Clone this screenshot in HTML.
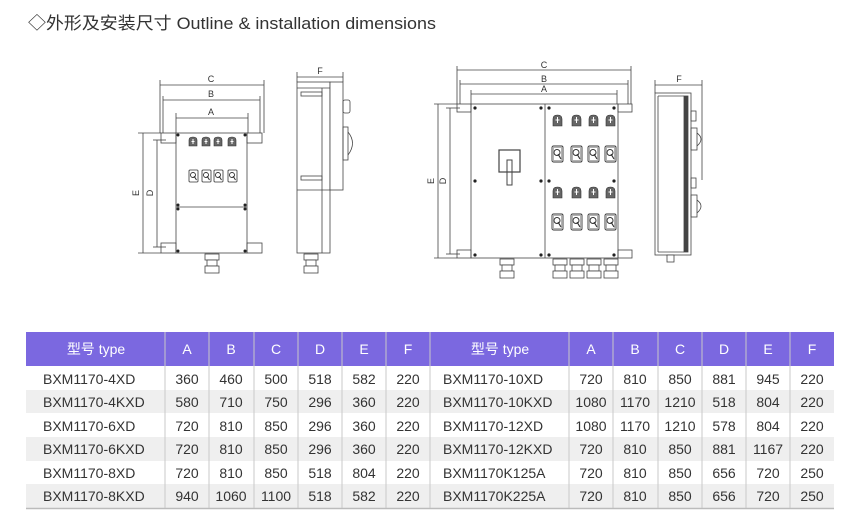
<!DOCTYPE html>
<html><head><meta charset="utf-8"><style>
html,body{margin:0;padding:0;background:#fff;width:850px;height:522px;overflow:hidden}
svg{display:block}
text{font-family:"Liberation Sans","Noto Sans CJK SC",sans-serif}
</style></head><body>
<svg width="850" height="522" viewBox="0 0 850 522" xmlns="http://www.w3.org/2000/svg">
<defs>
<g id="sm"><path d="M0,9 V3 Q0,0 4,0 Q8,0 8,3 V9 Z" fill="#666" stroke="#333" stroke-width="0.6"/><line x1="4" y1="2" x2="4" y2="7" stroke="#fff" stroke-width="1"/><line x1="2.5" y1="4.5" x2="5.5" y2="4.5" stroke="#fff" stroke-width="1"/></g>
<g id="bg"><rect x="0" y="0" width="9" height="12" rx="1" fill="#fff" stroke="#333" stroke-width="0.8"/><circle cx="4" cy="5" r="2.5" fill="none" stroke="#333" stroke-width="0.9"/><line x1="5" y1="6" x2="7.5" y2="10" stroke="#333" stroke-width="1"/></g>
<g id="sm2"><path d="M0,11 V4 Q0,0 4.5,0 Q9,0 9,4 V11 Z" fill="#666" stroke="#333" stroke-width="0.6"/><line x1="4.5" y1="2" x2="4.5" y2="8" stroke="#fff" stroke-width="1"/><line x1="2.5" y1="5" x2="6.5" y2="5" stroke="#fff" stroke-width="1"/></g>
<g id="bg2"><rect x="0" y="0" width="11" height="16" rx="1.5" fill="#fff" stroke="#333" stroke-width="0.9"/><rect x="1.5" y="1.5" width="8" height="13" fill="none" stroke="#666" stroke-width="0.5"/><circle cx="5" cy="6.5" r="3" fill="none" stroke="#333" stroke-width="1"/><line x1="6" y1="8" x2="9" y2="13" stroke="#333" stroke-width="1.2"/></g>
<g id="gl"><rect x="0" y="0" width="14" height="6" fill="#fff" stroke="#444" stroke-width="0.8"/><rect x="2" y="6" width="10" height="6" fill="#fff" stroke="#444" stroke-width="0.8"/><rect x="0" y="12" width="14" height="7" fill="#fff" stroke="#444" stroke-width="0.8"/></g>
</defs>
<text x="28" y="29" font-size="17" fill="#333" textLength="408" lengthAdjust="spacingAndGlyphs">◇外形及安装尺寸 Outline &amp; installation dimensions</text>

<g stroke="#444" stroke-width="0.8" fill="none">
<!-- left front -->
<line x1="160" y1="85" x2="264" y2="85"/><line x1="160" y1="80" x2="160" y2="133"/><line x1="264" y1="80" x2="264" y2="133"/>
<line x1="163" y1="100" x2="260" y2="100"/><line x1="163" y1="96" x2="163" y2="133"/><line x1="260" y1="96" x2="260" y2="133"/>
<line x1="176" y1="118" x2="248" y2="118"/><line x1="176" y1="113" x2="176" y2="133"/><line x1="248" y1="113" x2="248" y2="133"/>
<rect x="176" y="133" width="71" height="120" fill="#fff"/>
<line x1="176" y1="207" x2="247" y2="207"/>
<rect x="161" y="133" width="15" height="10"/><rect x="161" y="243" width="15" height="10"/>
<rect x="247" y="133" width="15" height="10"/><rect x="247" y="243" width="15" height="10"/>
<line x1="143" y1="133" x2="143" y2="253"/><line x1="138" y1="133" x2="161" y2="133"/><line x1="138" y1="253" x2="161" y2="253"/>
<line x1="157" y1="140" x2="157" y2="247"/><line x1="153" y1="140" x2="166" y2="140"/><line x1="153" y1="247" x2="166" y2="247"/>
<!-- left side -->
<line x1="297" y1="77" x2="343" y2="77"/><line x1="297" y1="72" x2="297" y2="82"/><line x1="343" y1="72" x2="343" y2="82"/>
<rect x="297" y="82" width="33" height="171" fill="#fff"/>
<rect x="330" y="82" width="13" height="108" fill="#fff"/>
<line x1="297" y1="88" x2="330" y2="88"/><line x1="322" y1="88" x2="322" y2="253"/>
<rect x="301" y="92" width="21" height="4"/><rect x="301" y="176" width="21" height="4"/>
<line x1="297" y1="190" x2="330" y2="190"/>
<rect x="343" y="100" width="7" height="13" rx="2"/>
<rect x="343" y="127" width="5" height="33"/><path d="M348,132 Q357,143 348,155"/>
<!-- right front -->
<line x1="457" y1="70" x2="631" y2="70"/><line x1="457" y1="66" x2="457" y2="104"/><line x1="631" y1="66" x2="631" y2="104"/>
<line x1="460" y1="84" x2="628" y2="84"/><line x1="460" y1="80" x2="460" y2="104"/><line x1="628" y1="80" x2="628" y2="104"/>
<line x1="471" y1="94" x2="617" y2="94"/><line x1="471" y1="90" x2="471" y2="104"/><line x1="617" y1="90" x2="617" y2="104"/>
<rect x="471" y="104" width="147" height="154" fill="#fff"/>
<line x1="545" y1="104" x2="545" y2="258"/>
<rect x="457" y="104" width="14" height="8"/><rect x="457" y="250" width="14" height="8"/>
<rect x="618" y="104" width="14" height="8"/><rect x="618" y="250" width="14" height="8"/>
<line x1="438" y1="104" x2="438" y2="258"/><line x1="434" y1="104" x2="457" y2="104"/><line x1="434" y1="258" x2="457" y2="258"/>
<line x1="450" y1="108" x2="450" y2="254"/><line x1="446" y1="108" x2="460" y2="108"/><line x1="446" y1="254" x2="460" y2="254"/>
<rect x="499" y="150" width="21" height="22" stroke-width="1.2"/>
<rect x="507" y="160" width="5" height="25" stroke-width="1"/>
<!-- right side -->
<line x1="655" y1="85" x2="702" y2="85"/><line x1="655" y1="80" x2="655" y2="93"/><line x1="702" y1="80" x2="702" y2="180"/>
<rect x="655" y="93" width="36" height="162" fill="#fff"/>
<line x1="658" y1="96" x2="684" y2="96"/><line x1="658" y1="96" x2="658" y2="252"/><line x1="658" y1="252" x2="684" y2="252"/>
<rect x="684" y="96" width="4" height="156" fill="#444"/>
<rect x="691" y="111" width="5" height="10"/><rect x="691" y="128" width="6" height="22"/><path d="M697,133 Q705,139 697,146"/>
<rect x="691" y="178" width="5" height="10"/><rect x="691" y="195" width="6" height="22"/><path d="M697,200 Q705,206 697,213"/>
</g>
<g fill="#222">
<circle cx="178" cy="135" r="1.5"/><circle cx="245" cy="135" r="1.5"/><circle cx="178" cy="205" r="1.5"/><circle cx="245" cy="205" r="1.5"/><circle cx="178" cy="209" r="1.5"/><circle cx="245" cy="209" r="1.5"/><circle cx="178" cy="251" r="1.5"/><circle cx="245" cy="251" r="1.5"/>
<circle cx="475" cy="108" r="1.6"/><circle cx="541" cy="108" r="1.6"/><circle cx="549" cy="108" r="1.6"/><circle cx="614" cy="108" r="1.6"/>
<circle cx="475" cy="181" r="1.6"/><circle cx="541" cy="181" r="1.6"/><circle cx="549" cy="181" r="1.6"/><circle cx="614" cy="181" r="1.6"/>
<circle cx="475" cy="255" r="1.6"/><circle cx="541" cy="255" r="1.6"/><circle cx="549" cy="255" r="1.6"/><circle cx="614" cy="255" r="1.6"/>
</g>
<use href="#sm" x="189" y="137"/><use href="#sm" x="202" y="137"/><use href="#sm" x="214" y="137"/><use href="#sm" x="228" y="137"/>
<use href="#bg" x="189" y="170"/><use href="#bg" x="202" y="170"/><use href="#bg" x="214" y="170"/><use href="#bg" x="228" y="170"/>
<use href="#sm2" x="553" y="115"/><use href="#sm2" x="572" y="115"/><use href="#sm2" x="589" y="115"/><use href="#sm2" x="606" y="115"/>
<use href="#bg2" x="552" y="146"/><use href="#bg2" x="571" y="146"/><use href="#bg2" x="588" y="146"/><use href="#bg2" x="605" y="146"/>
<use href="#sm2" x="553" y="187"/><use href="#sm2" x="572" y="187"/><use href="#sm2" x="589" y="187"/><use href="#sm2" x="606" y="187"/>
<use href="#bg2" x="552" y="214"/><use href="#bg2" x="571" y="214"/><use href="#bg2" x="588" y="214"/><use href="#bg2" x="605" y="214"/>
<use href="#gl" x="205" y="254"/><use href="#gl" x="304" y="254" transform="scale(1)"/>
<use href="#gl" x="500" y="259"/><use href="#gl" x="553" y="259"/><use href="#gl" x="570" y="259"/><use href="#gl" x="587" y="259"/><use href="#gl" x="604" y="259"/>
<rect x="667" y="255" width="7" height="7" fill="#fff" stroke="#444" stroke-width="0.8"/>
<g font-size="9" fill="#333" text-anchor="middle">
<text x="211" y="82">C</text><text x="211" y="97">B</text><text x="211" y="115">A</text>
<text x="320" y="74">F</text>
<text x="544" y="68">C</text><text x="544" y="82">B</text><text x="544" y="92">A</text>
<text x="679" y="82">F</text>
<text transform="translate(139,193) rotate(-90)">E</text><text transform="translate(153,193) rotate(-90)">D</text>
<text transform="translate(434,181) rotate(-90)">E</text><text transform="translate(446,181) rotate(-90)">D</text>
</g>

<!-- table -->
<rect x="26" y="332" width="808" height="34" fill="#7b68e0"/>
<g fill="#efefef">
<rect x="26" y="390" width="808" height="23"/><rect x="26" y="437" width="808" height="24"/><rect x="26" y="484" width="808" height="24"/>
</g>
<line x1="26" y1="508.5" x2="834" y2="508.5" stroke="#bbb" stroke-width="1.5"/>
<g stroke="#c8c8c8" stroke-width="1">
<line x1="165" y1="332" x2="165" y2="508"/><line x1="209" y1="332" x2="209" y2="508"/><line x1="254" y1="332" x2="254" y2="508"/><line x1="298" y1="332" x2="298" y2="508"/><line x1="342" y1="332" x2="342" y2="508"/><line x1="386" y1="332" x2="386" y2="508"/><line x1="430" y1="332" x2="430" y2="508"/><line x1="569" y1="332" x2="569" y2="508"/><line x1="613" y1="332" x2="613" y2="508"/><line x1="658" y1="332" x2="658" y2="508"/><line x1="702" y1="332" x2="702" y2="508"/><line x1="746" y1="332" x2="746" y2="508"/><line x1="790" y1="332" x2="790" y2="508"/>
</g>
<g font-size="14" fill="#fff" text-anchor="middle">
<text x="96" y="354">型号 type</text><text x="187" y="354">A</text><text x="231" y="354">B</text><text x="276" y="354">C</text><text x="320" y="354">D</text><text x="364" y="354">E</text><text x="408" y="354">F</text>
<text x="500" y="354">型号 type</text><text x="591" y="354">A</text><text x="635" y="354">B</text><text x="680" y="354">C</text><text x="724" y="354">D</text><text x="768" y="354">E</text><text x="812" y="354">F</text>
</g>
<g font-size="14" fill="#333">
<text x="43" y="384">BXM1170-4XD</text><text x="43" y="407">BXM1170-4KXD</text><text x="43" y="431">BXM1170-6XD</text><text x="43" y="454">BXM1170-6KXD</text><text x="43" y="478">BXM1170-8XD</text><text x="43" y="501">BXM1170-8KXD</text>
<text x="443" y="384">BXM1170-10XD</text><text x="443" y="407">BXM1170-10KXD</text><text x="443" y="431">BXM1170-12XD</text><text x="443" y="454">BXM1170-12KXD</text><text x="443" y="478">BXM1170K125A</text><text x="443" y="501">BXM1170K225A</text>
</g>
<g font-size="14" fill="#333" text-anchor="middle">
<text x="187" y="384">360</text><text x="231" y="384">460</text><text x="276" y="384">500</text><text x="320" y="384">518</text><text x="364" y="384">582</text><text x="408" y="384">220</text>
<text x="187" y="407">580</text><text x="231" y="407">710</text><text x="276" y="407">750</text><text x="320" y="407">296</text><text x="364" y="407">360</text><text x="408" y="407">220</text>
<text x="187" y="431">720</text><text x="231" y="431">810</text><text x="276" y="431">850</text><text x="320" y="431">296</text><text x="364" y="431">360</text><text x="408" y="431">220</text>
<text x="187" y="454">720</text><text x="231" y="454">810</text><text x="276" y="454">850</text><text x="320" y="454">296</text><text x="364" y="454">360</text><text x="408" y="454">220</text>
<text x="187" y="478">720</text><text x="231" y="478">810</text><text x="276" y="478">850</text><text x="320" y="478">518</text><text x="364" y="478">804</text><text x="408" y="478">220</text>
<text x="187" y="501">940</text><text x="231" y="501">1060</text><text x="276" y="501">1100</text><text x="320" y="501">518</text><text x="364" y="501">582</text><text x="408" y="501">220</text>
<text x="591" y="384">720</text><text x="635" y="384">810</text><text x="680" y="384">850</text><text x="724" y="384">881</text><text x="768" y="384">945</text><text x="812" y="384">220</text>
<text x="591" y="407">1080</text><text x="635" y="407">1170</text><text x="680" y="407">1210</text><text x="724" y="407">518</text><text x="768" y="407">804</text><text x="812" y="407">220</text>
<text x="591" y="431">1080</text><text x="635" y="431">1170</text><text x="680" y="431">1210</text><text x="724" y="431">578</text><text x="768" y="431">804</text><text x="812" y="431">220</text>
<text x="591" y="454">720</text><text x="635" y="454">810</text><text x="680" y="454">850</text><text x="724" y="454">881</text><text x="768" y="454">1167</text><text x="812" y="454">220</text>
<text x="591" y="478">720</text><text x="635" y="478">810</text><text x="680" y="478">850</text><text x="724" y="478">656</text><text x="768" y="478">720</text><text x="812" y="478">250</text>
<text x="591" y="501">720</text><text x="635" y="501">810</text><text x="680" y="501">850</text><text x="724" y="501">656</text><text x="768" y="501">720</text><text x="812" y="501">250</text>
</g>
</svg>
</body></html>
